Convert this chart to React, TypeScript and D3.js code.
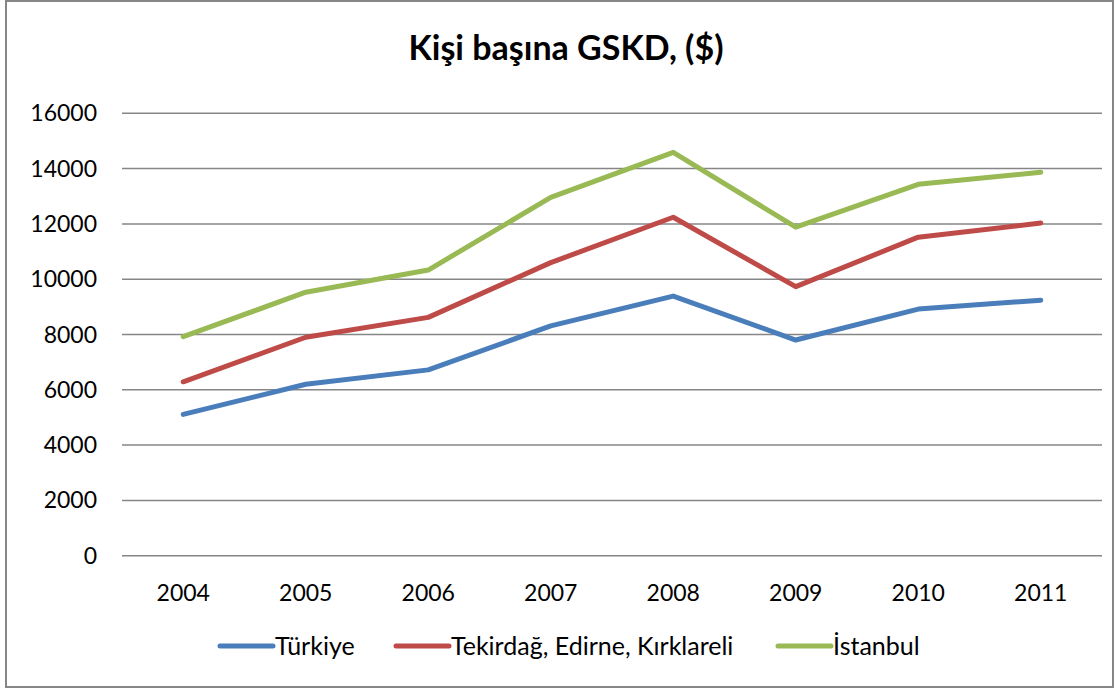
import React, { useEffect, useRef } from 'react';
import * as d3 from 'd3';

const years = ['2004', '2005', '2006', '2007', '2008', '2009', '2010', '2011'];
const turkiye = [5110, 6200, 6720, 8310, 9390, 7800, 8920, 9240];
const tekirdag = [6290, 7900, 8620, 10600, 12240, 9730, 11520, 12030];
const istanbul = [7920, 9530, 10330, 12960, 14590, 11880, 13430, 13870];
const yTicks = [0, 2000, 4000, 6000, 8000, 10000, 12000, 14000, 16000];

const seriesNames = ['Türkiye', 'Tekirdağ, Edirne, Kırklareli', 'İstanbul'];
const seriesColors = ['#4A7EBB', '#BE4B48', '#98B954'];

const W = 1120;
const H = 688;
const FONT = 'Lato, "Open Sans", sans-serif';

export default function App() {
  const ref = useRef<SVGSVGElement>(null);

  useEffect(() => {
    const svg = d3.select(ref.current);
    svg.selectAll('*').remove();

    // outer frame
    svg.append('rect')
      .attr('x', 6).attr('y', 1)
      .attr('width', 1107).attr('height', 686)
      .attr('fill', '#fff')
      .attr('stroke', '#868686')
      .attr('stroke-width', 2);

    svg.append('text')
      .attr('x', 566).attr('y', 48)
      .attr('dy', '0.35em')
      .attr('text-anchor', 'middle')
      .attr('font-family', FONT)
      .attr('font-weight', 'bold')
      .attr('font-size', 34)
      .text('Kişi başına GSKD, ($)');

    const x = d3.scaleBand().domain(years).range([122, 1102]);
    const y = d3.scaleLinear().domain([0, 16000]).range([555.7, 113.3]);

    // gridlines
    svg.append('g')
      .selectAll('line')
      .data(yTicks)
      .enter()
      .append('line')
      .attr('x1', 122).attr('x2', 1102)
      .attr('y1', d => y(d)).attr('y2', d => y(d))
      .attr('stroke', '#868686')
      .attr('stroke-width', 1.5);

    // y labels
    svg.append('g')
      .selectAll('text')
      .data(yTicks)
      .enter()
      .append('text')
      .attr('x', 97)
      .attr('y', d => y(d))
      .attr('dy', '0.35em')
      .attr('text-anchor', 'end')
      .attr('font-family', FONT)
      .attr('font-size', 23)
      .attr('fill', '#000')
      .text(d => d);

    // x labels
    svg.append('g')
      .selectAll('text')
      .data(years)
      .enter()
      .append('text')
      .attr('x', d => (x(d) as number) + x.bandwidth() / 2)
      .attr('y', 593)
      .attr('dy', '0.35em')
      .attr('text-anchor', 'middle')
      .attr('font-family', FONT)
      .attr('font-size', 23)
      .text(d => d);

    const line = d3.line<number>()
      .x((_, i) => (x(years[i]) as number) + x.bandwidth() / 2)
      .y(d => y(d));

    [turkiye, tekirdag, istanbul].forEach((vals, i) => {
      svg.append('path')
        .attr('d', line(vals))
        .attr('fill', 'none')
        .attr('stroke', seriesColors[i])
        .attr('stroke-width', 5)
        .attr('stroke-linecap', 'round')
        .attr('stroke-linejoin', 'round');
    });

    // legend
    const legendX = [220, 396, 778];
    const leg = svg.append('g');
    seriesNames.forEach((name, i) => {
      leg.append('line')
        .attr('x1', legendX[i]).attr('x2', legendX[i] + 53)
        .attr('y1', 646).attr('y2', 646)
        .attr('stroke', seriesColors[i])
        .attr('stroke-width', 5)
        .attr('stroke-linecap', 'round');
      leg.append('text')
        .attr('x', legendX[i] + 55)
        .attr('y', 646)
        .attr('dy', '0.35em')
        .attr('font-family', FONT)
        .attr('font-size', 25)
        .text(name);
    });
  }, []);

  return (
    <svg
      ref={ref}
      width={W}
      height={H}
      style={{ position: 'absolute', left: 0, top: 0, background: '#fff' }}
    />
  );
}
